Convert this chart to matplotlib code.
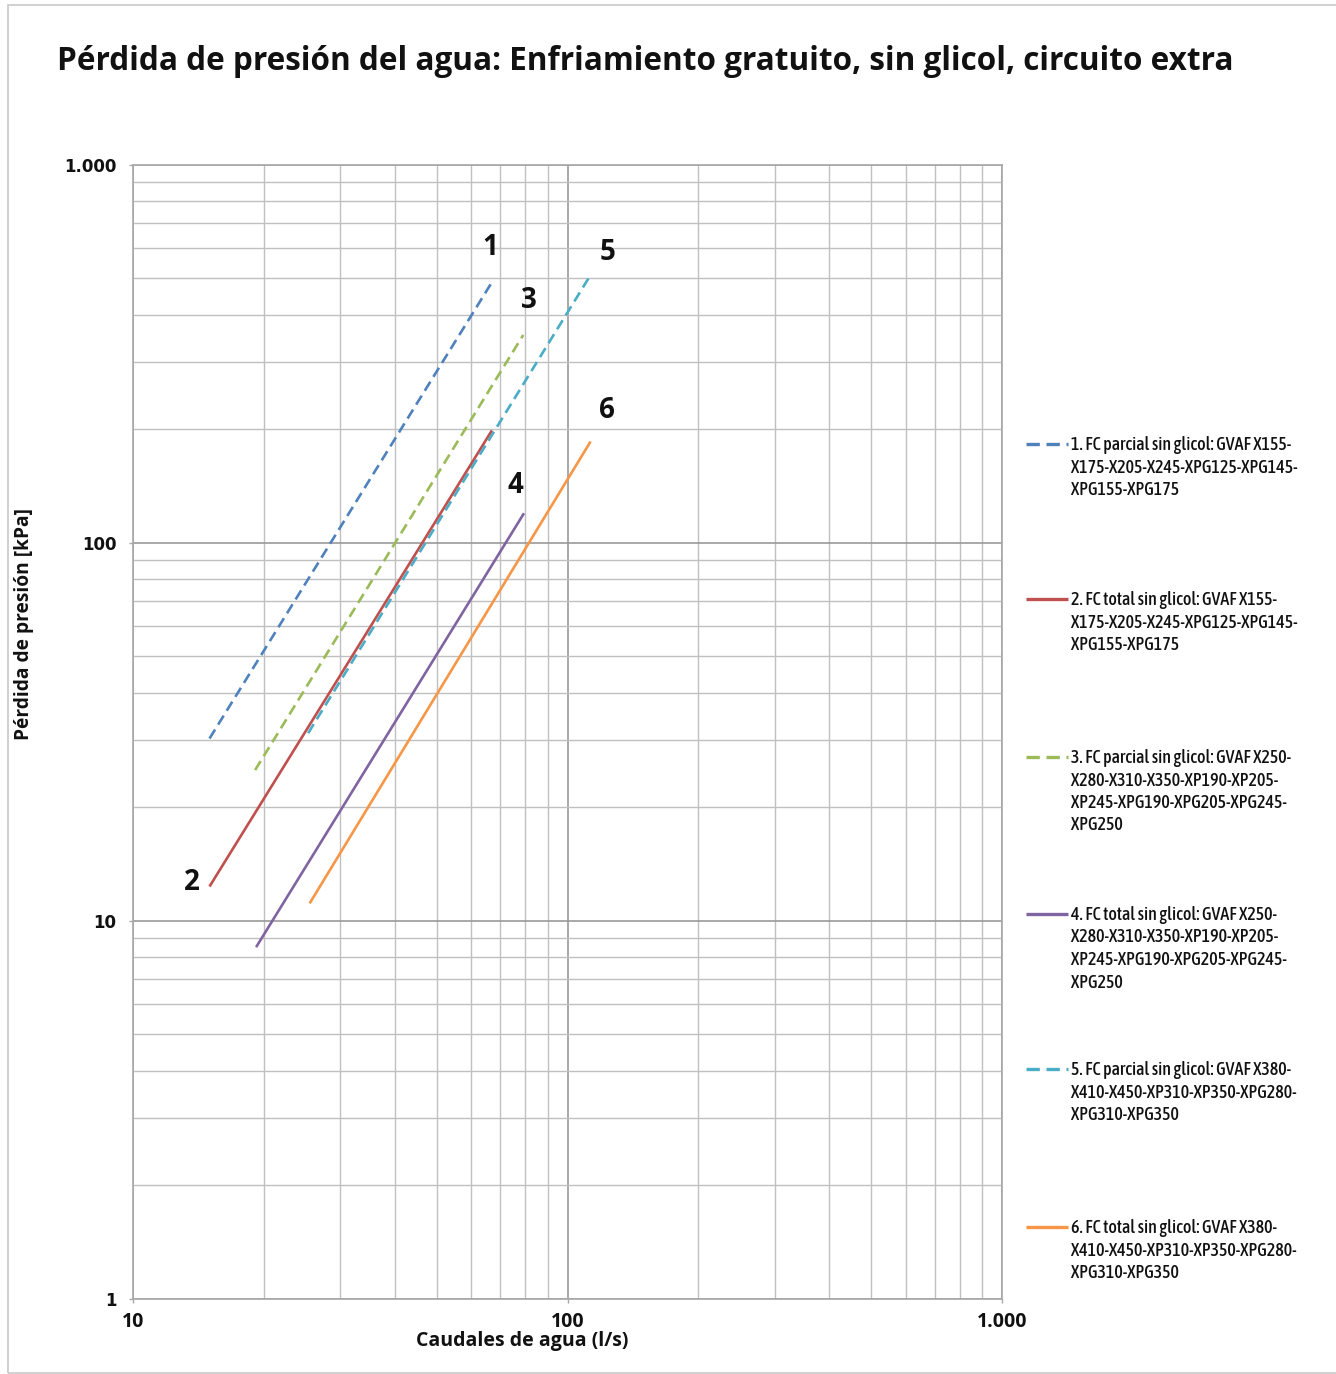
import matplotlib
matplotlib.use("Agg")
import matplotlib.pyplot as plt
from matplotlib.lines import Line2D
from matplotlib.patches import Rectangle
from matplotlib.ticker import FixedLocator, FixedFormatter, LogLocator, NullFormatter
from matplotlib import font_manager
from matplotlib.font_manager import FontProperties

# ---------------- data ----------------
series_names = ["1", "2", "3", "4", "5", "6"]
legend_labels = [
    "1. FC parcial sin glicol: GVAF X155-\nX175-X205-X245-XPG125-XPG145-\nXPG155-XPG175",
    "2. FC total sin glicol: GVAF X155-\nX175-X205-X245-XPG125-XPG145-\nXPG155-XPG175",
    "3. FC parcial sin glicol: GVAF X250-\nX280-X310-X350-XP190-XP205-\nXP245-XPG190-XPG205-XPG245-\nXPG250",
    "4. FC total sin glicol: GVAF X250-\nX280-X310-X350-XP190-XP205-\nXP245-XPG190-XPG205-XPG245-\nXPG250",
    "5. FC parcial sin glicol: GVAF X380-\nX410-X450-XP310-XP350-XPG280-\nXPG310-XPG350",
    "6. FC total sin glicol: GVAF X380-\nX410-X450-XP310-XP350-XPG280-\nXPG310-XPG350",
]
flow_1 = [15.0, 67.5]
loss_1 = [30.3, 495.0]
flow_2 = [15.0, 67.0]
loss_2 = [12.3, 198.0]
flow_3 = [19.1, 79.1]
loss_3 = [25.0, 354.0]
flow_4 = [19.2, 79.4]
loss_4 = [8.5, 119.5]
flow_5 = [25.3, 113.0]
loss_5 = [31.3, 510.0]
flow_6 = [25.5, 113.0]
loss_6 = [11.1, 185.0]

x_ticks = [10, 100, 1000]
x_tick_labels = ["10", "100", "1.000"]
y_ticks = [1, 10, 100, 1000]
y_tick_labels = ["1", "10", "100", "1.000"]

title = "Pérdida de presión del agua: Enfriamiento gratuito, sin glicol, circuito extra"
x_label = "Caudales de agua (l/s)"
y_label = "Pérdida de presión [kPa]"

# ---------------- style ----------------
colors = ["#4F81BD", "#C0504D", "#9BBB59", "#8064A2", "#4BACC6", "#F79646"]
dashed = [True, False, True, False, True, False]
label_anchor = [1, 0, 1, 1, 1, 1]
label_offset = [(-2, 23), (-13, 3), (4, 25), (-6, 20), (12, 16), (12, 22)]

# find a narrow / condensed font for the legend
narrow_fp = None
narrow_size = 13
cands = []
for f in font_manager.fontManager.ttflist:
    nm = f.name.lower()
    st = str(f.stretch).lower()
    fn = f.fname.lower()
    is_cond = ("narrow" in nm or "condensed" in nm or "condensed" in fn or "narrow" in fn
               or st in ("condensed", "semi-condensed", "extra-condensed"))
    if not is_cond:
        continue
    if "mono" in nm or "serif" in nm and "sans" not in nm:
        continue
    if "italic" in fn or "oblique" in fn or str(f.style) != "normal":
        continue
    if "semicondensed" in fn or "semi" in st or "extra" in st or "extracondensed" in fn:
        rank_w = 2
    else:
        rank_w = 0
    w = f.weight if isinstance(f.weight, int) else 400
    cands.append((rank_w, abs(w - 500), f.fname))
if cands:
    cands.sort()
    narrow_fp = FontProperties(fname=cands[0][2], size=narrow_size)
else:
    narrow_fp = FontProperties(family=["Liberation Sans", "DejaVu Sans"], size=10.2)

W, H = 1336, 1374
fig = plt.figure(figsize=(W / 100, H / 100), dpi=100)

def fx(px):
    return px / W

def fy(py):
    return 1 - py / H

fig.add_artist(Rectangle((fx(8), fy(1373)), 1.2, fy(5) - fy(1373), transform=fig.transFigure,
                         fill=False, edgecolor="#c8c8c8", linewidth=1.2))

ax = fig.add_axes([fx(133), fy(1298.5), fx(1002) - fx(133), fy(164.5) - fy(1298.5)])
ax.set_xscale("log")
ax.set_yscale("log")
ax.set_xlim(10, 1000)
ax.set_ylim(1, 1000)

flows = [flow_1, flow_2, flow_3, flow_4, flow_5, flow_6]
losses = [loss_1, loss_2, loss_3, loss_4, loss_5, loss_6]
for i in range(6):
    ls = (0, (4.0, 2.2)) if dashed[i] else "-"
    ax.plot(flows[i], losses[i], color=colors[i], linestyle=ls, linewidth=1.9,
            solid_capstyle="butt", zorder=3)
    k = -1 if label_anchor[i] == 1 else 0
    ax.annotate(series_names[i], (flows[i][k], losses[i][k]), xytext=label_offset[i],
                textcoords="offset points", ha="center", va="center",
                fontsize=20, fontweight="bold", family="Open Sans", color="#111111")

ax.xaxis.set_major_locator(FixedLocator(x_ticks))
ax.xaxis.set_major_formatter(FixedFormatter(x_tick_labels))
ax.yaxis.set_major_locator(FixedLocator(y_ticks))
ax.yaxis.set_major_formatter(FixedFormatter(y_tick_labels))
ax.xaxis.set_minor_locator(LogLocator(base=10, subs=range(2, 10)))
ax.yaxis.set_minor_locator(LogLocator(base=10, subs=range(2, 10)))
ax.xaxis.set_minor_formatter(NullFormatter())
ax.yaxis.set_minor_formatter(NullFormatter())

ax.grid(True, which="major", color="#9a9a9a", linewidth=1.2, zorder=0)
ax.grid(True, which="minor", color="#c0c0c0", linewidth=1.0, zorder=0)
ax.set_axisbelow(True)
for s in ax.spines.values():
    s.set_color("#a8a8a8")
    s.set_linewidth(1.2)

ax.tick_params(axis="both", which="major", length=3, width=1, color="#a8a8a8", direction="out")
ax.tick_params(axis="both", which="minor", length=0)
ax.tick_params(axis="y", pad=9)
ax.tick_params(axis="x", pad=7)
for t in ax.get_yticklabels():
    t.set_fontfamily("DejaVu Sans")
    t.set_fontweight("bold")
    t.set_fontsize(12)
    t.set_color("#111111")
for t in ax.get_xticklabels():
    t.set_fontfamily("Open Sans")
    t.set_fontweight("bold")
    t.set_fontsize(14)
    t.set_color("#111111")

fig.text(fx(57), fy(62), title, ha="left", va="center", fontsize=22.7,
         fontweight="bold", family="Open Sans", color="#111111")
fig.text(fx(522), fy(1341), x_label, ha="center", va="center", fontsize=14,
         fontweight="bold", family="Open Sans", color="#111111")
fig.text(fx(24), fy(624), y_label, ha="center", va="center", rotation=90,
         fontsize=13.8, fontweight="bold", family="Open Sans", color="#111111")

# legend (drawn manually to match the wide spacing)
baselines = [450, 605, 763, 920, 1075, 1233]
line_step = 22.5
for i in range(6):
    yb = baselines[i]
    ls = (0, (4.0, 2.0)) if dashed[i] else "-"
    fig.add_artist(Line2D([fx(1026), fx(1068)], [fy(yb - 6), fy(yb - 6)],
                          transform=fig.transFigure, color=colors[i], linestyle=ls,
                          linewidth=2.4, solid_capstyle="butt"))
    for j, line in enumerate(legend_labels[i].split("\n")):
        fig.text(fx(1071), fy(yb + j * line_step), line, ha="left", va="baseline",
                 fontproperties=narrow_fp, color="#111111")

fig.savefig("out.png", dpi=100)
